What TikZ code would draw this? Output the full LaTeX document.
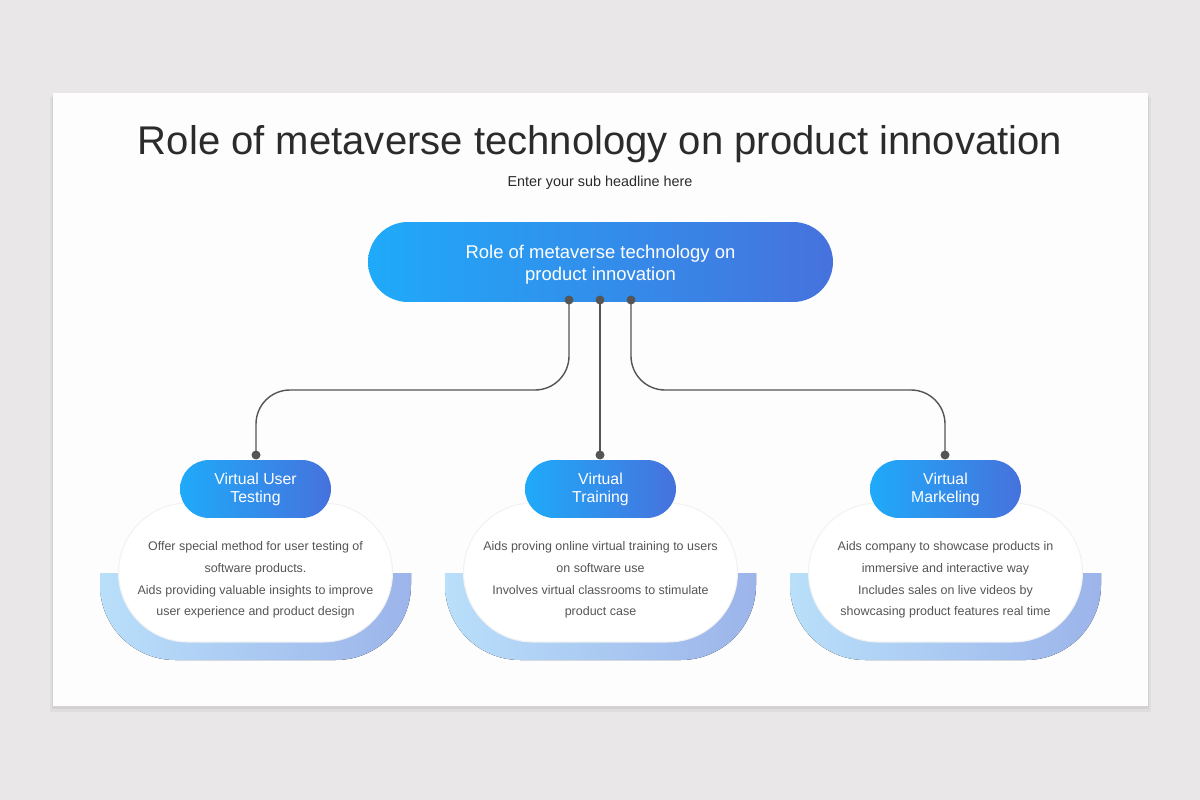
\documentclass[tikz,border=0pt]{standalone}
\usepackage{fontspec}
\setmainfont{Liberation Sans}

\definecolor{pageGray}{HTML}{E9E7E8}
\definecolor{cardWhite}{HTML}{FDFDFD}
\definecolor{titleInk}{HTML}{2B2B2B}
\definecolor{bodyInk}{HTML}{555555}
\definecolor{linkInk}{HTML}{555555}
\definecolor{pillLeft}{HTML}{1FAAF9}
\definecolor{pillRight}{HTML}{4672DD}
\definecolor{bandLeft}{HTML}{B9DFFA}
\definecolor{bandRight}{HTML}{9CB4EA}

\begin{document}
\begin{tikzpicture}[x=0.02cm, y=-0.02cm,
    mainpill/.style={rounded corners=0.8cm, minimum width=9.3cm, minimum height=1.6cm,
        left color=pillLeft, right color=pillRight, text=white, align=center, inner sep=0pt,
        font=\fontsize{10.5}{12.3}\selectfont},
    subpill/.style={rounded corners=0.58cm, minimum width=3.02cm, minimum height=1.16cm,
        left color=pillLeft, right color=pillRight, text=white, align=center, inner sep=0pt,
        font=\fontsize{9}{10.3}\selectfont},
    blob/.style={rounded corners=1.39cm, minimum width=5.48cm, minimum height=2.78cm,
        fill=white, draw=black!5, line width=0.6pt, inner sep=0pt},
    bodytext/.style={text=bodyInk, align=center, font=\fontsize{7.1}{12.3}\selectfont},
    link/.style={draw=linkInk, line width=0.8pt, rounded corners=0.68cm}
]
    % 1. Page and card
    \useasboundingbox (0,0) rectangle (1200,800);
    \fill[pageGray] (0,0) rectangle (1200,800);
    \fill[black, opacity=0.04] (50,97) rectangle (1151,712);
    \fill[black, opacity=0.05] (52,95) rectangle (1149,709);
    \fill[cardWhite] (53,93) rectangle (1148,706);

    % 2. Headline
    \node[text=titleInk, font=\fontsize{22.8}{27}\selectfont] (title) at (600,144)
        {Role of metaverse technology on product innovation};
    \node[text=titleInk, font=\fontsize{8.2}{10}\selectfont] (subtitle) at (600,183)
        {Enter your sub headline here};

    % 3. Main pill
    \node[mainpill] (main) at (600.5,262) {};
    \node[text=white, align=center, font=\fontsize{10.5}{12.3}\selectfont] (mainText) at (600.5,265)
        {Role of metaverse technology on\\product innovation};

    % 4. Lower bands, blobs and text
    \foreach \cx/\name in {255.5/L, 600.5/C, 945.5/R} {
        % blue U band under each blob
        \fill[left color=bandLeft, right color=bandRight]
            (\cx-155.5,573) [rounded corners=1.5cm] -- (\cx-155.5,660) -- (\cx+155.5,660)
            [sharp corners] -- (\cx+155.5,573) -- cycle;
        \node[blob] (blob\name) at (\cx,572.5) {};
    }
    \node[bodytext] (textL) at (255.5,580) {Offer special method for user testing of\\software products.\\Aids providing valuable insights to improve\\user experience and product design};
    \node[bodytext] (textC) at (600.5,580) {Aids proving online virtual training to users\\on software use\\Involves virtual classrooms to stimulate\\product case};
    \node[bodytext] (textR) at (945.5,580) {Aids company to showcase products in\\immersive and interactive way\\Includes sales on live videos by\\showcasing product features real time};

    % 5. Small pills
    \node[subpill] (pillL) at (255.5,489) {Virtual User\\Testing};
    \node[subpill] (pillC) at (600.5,489) {Virtual\\Training};
    \node[subpill] (pillR) at (945.5,489) {Virtual\\Markeling};

    % 6. Connectors
    \coordinate (topL) at (569,300);
    \coordinate (topC) at (600,300);
    \coordinate (topR) at (631,300);
    \coordinate (bendL) at (256,390);
    \coordinate (bendR) at (945,390);
    \coordinate (endL) at (256,455);
    \coordinate (endC) at (600,455);
    \coordinate (endR) at (945,455);

    \draw[link] (topL) |- (bendL) -- (endL);
    \draw[link] (topC) -- (endC);
    \draw[link] (topR) |- (bendR) -- (endR);

    % 7. Dots
    \foreach \p in {topL, topC, topR, endL, endC, endR}
        \fill[linkInk] (\p) circle (4.5);

\end{tikzpicture}
\end{document}
